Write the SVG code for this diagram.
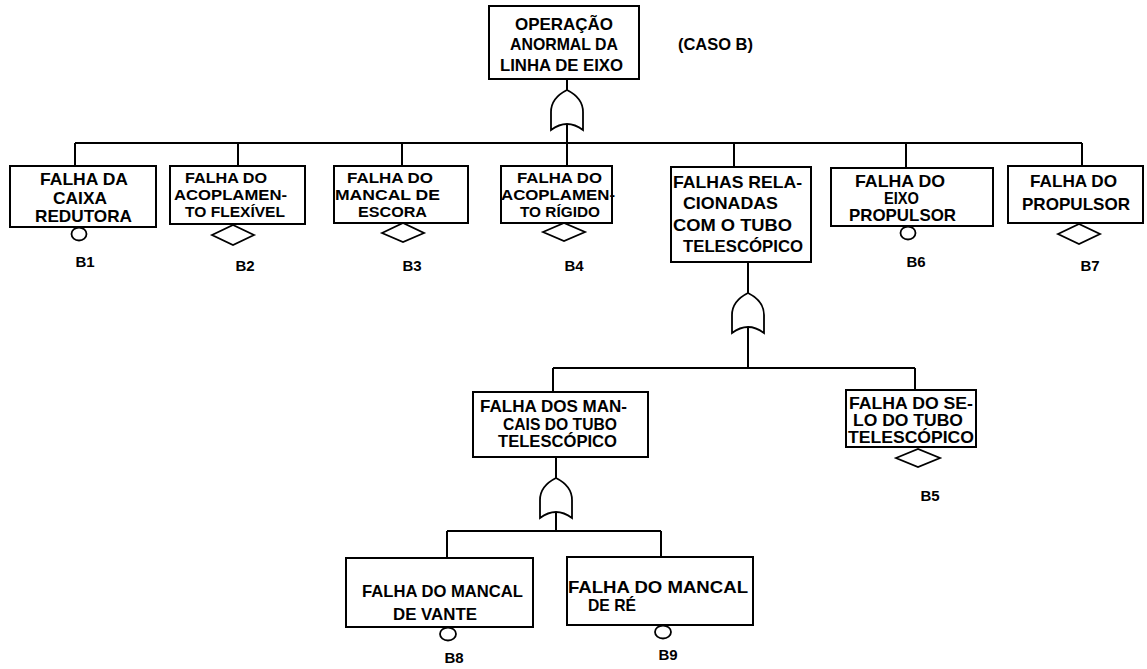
<svg xmlns="http://www.w3.org/2000/svg" xmlns:xlink="http://www.w3.org/1999/xlink" width="1147" height="669" viewBox="0 0 1147 669">
<style>
.bg{fill:#ffffff}
.box{fill:#ffffff;stroke:#000;stroke-width:2}
.ln{fill:none;stroke:#000;stroke-width:2}
.sym{fill:#ffffff;stroke:#000;stroke-width:1.8}
text{font-family:"Liberation Sans",Arial,sans-serif;font-weight:bold;fill:#000}
.t{font-size:17px}
.s{font-size:14.5px}
.lb{font-size:15px;text-anchor:middle}
</style>
<defs>
<path id="or" d="M-16,40 L-16,22 Q-16,8 0,0 Q16,8 16,22 L16,40 Q0,28 -16,40 Z" class="sym"/>
</defs>
<rect class="bg" x="0" y="0" width="1147" height="669"/>

<g id="connectors">
<line class="ln" x1="567" y1="79" x2="567" y2="90"/>
<line class="ln" x1="567" y1="124" x2="567" y2="143"/>
<line class="ln" x1="75" y1="143" x2="1082" y2="143"/>
<line class="ln" x1="75" y1="143" x2="75" y2="166"/>
<line class="ln" x1="238" y1="143" x2="238" y2="166"/>
<line class="ln" x1="402" y1="143" x2="402" y2="166"/>
<line class="ln" x1="567" y1="143" x2="567" y2="166"/>
<line class="ln" x1="734" y1="143" x2="734" y2="167"/>
<line class="ln" x1="906" y1="143" x2="906" y2="168"/>
<line class="ln" x1="1082" y1="143" x2="1082" y2="166"/>
<line class="ln" x1="748" y1="262" x2="748" y2="293"/>
<line class="ln" x1="748" y1="327" x2="748" y2="368"/>
<line class="ln" x1="553" y1="368" x2="915" y2="368"/>
<line class="ln" x1="553" y1="368" x2="553" y2="392"/>
<line class="ln" x1="915" y1="368" x2="915" y2="390"/>
<line class="ln" x1="556" y1="457" x2="556" y2="478"/>
<line class="ln" x1="556" y1="512" x2="556" y2="531"/>
<line class="ln" x1="447" y1="531" x2="661" y2="531"/>
<line class="ln" x1="447" y1="531" x2="447" y2="558"/>
<line class="ln" x1="661" y1="531" x2="661" y2="557"/>
</g>

<g id="gate-top"><use xlink:href="#or" href="#or" x="567" y="90"/></g>
<g id="gate-tubo"><use xlink:href="#or" href="#or" x="748" y="293"/></g>
<g id="gate-mancais"><use xlink:href="#or" href="#or" x="556" y="478"/></g>

<g id="top">
<rect class="box" x="489" y="6" width="150" height="73"/>
<text class="t" x="515" y="30" textLength="98" lengthAdjust="spacingAndGlyphs">OPERAÇÃO</text>
<text class="t" x="510" y="50" textLength="108" lengthAdjust="spacingAndGlyphs">ANORMAL DA</text>
<text class="t" x="500" y="71" textLength="123" lengthAdjust="spacingAndGlyphs">LINHA DE EIXO</text>
</g>
<g id="caso"><text class="t" x="678" y="50" textLength="75" lengthAdjust="spacingAndGlyphs">(CASO B)</text></g>

<g id="n-b1">
<rect class="box" x="10" y="166" width="146" height="61"/>
<text class="t" x="40" y="185" textLength="88" lengthAdjust="spacingAndGlyphs">FALHA DA</text>
<text class="t" x="53" y="204" textLength="54" lengthAdjust="spacingAndGlyphs">CAIXA</text>
<text class="t" x="35" y="222" textLength="97" lengthAdjust="spacingAndGlyphs">REDUTORA</text>
<ellipse class="sym" cx="79" cy="234" rx="7.5" ry="6.5"/>
<text class="lb" x="85" y="267">B1</text>
</g>

<g id="n-b2">
<rect class="box" x="170" y="166" width="135" height="58"/>
<text class="s" x="185" y="183" textLength="82" lengthAdjust="spacingAndGlyphs">FALHA DO</text>
<text class="s" x="174" y="200" textLength="113" lengthAdjust="spacingAndGlyphs">ACOPLAMEN-</text>
<text class="s" x="185" y="217" textLength="100" lengthAdjust="spacingAndGlyphs">TO FLEXÍVEL</text>
<polygon class="sym" points="212,235 233,225 254,235 233,245"/>
<text class="lb" x="245" y="271">B2</text>
</g>

<g id="n-b3">
<rect class="box" x="334" y="166" width="134" height="57"/>
<text class="s" x="347" y="183" textLength="86" lengthAdjust="spacingAndGlyphs">FALHA DO</text>
<text class="s" x="335" y="200" textLength="105" lengthAdjust="spacingAndGlyphs">MANCAL DE</text>
<text class="s" x="358" y="217" textLength="69" lengthAdjust="spacingAndGlyphs">ESCORA</text>
<polygon class="sym" points="382,233 403,223 424,233 403,242"/>
<text class="lb" x="412" y="271">B3</text>
</g>

<g id="n-b4">
<rect class="box" x="501" y="166" width="111" height="57"/>
<text class="s" x="517" y="183" textLength="85" lengthAdjust="spacingAndGlyphs">FALHA DO</text>
<text class="s" x="501" y="200" textLength="114" lengthAdjust="spacingAndGlyphs">ACOPLAMEN-</text>
<text class="s" x="520" y="217" textLength="80" lengthAdjust="spacingAndGlyphs">TO RÍGIDO</text>
<polygon class="sym" points="543,232 564,223 585,232 564,241"/>
<text class="lb" x="574" y="271">B4</text>
</g>

<g id="n-tubo">
<rect class="box" x="671" y="167" width="140" height="95"/>
<text class="t" x="673" y="188" textLength="129" lengthAdjust="spacingAndGlyphs">FALHAS RELA-</text>
<text class="t" x="683" y="209" textLength="95" lengthAdjust="spacingAndGlyphs">CIONADAS</text>
<text class="t" x="673" y="231" textLength="119" lengthAdjust="spacingAndGlyphs">COM O TUBO</text>
<text class="t" x="683" y="252" textLength="120" lengthAdjust="spacingAndGlyphs">TELESCÓPICO</text>
</g>

<g id="n-b6">
<rect class="box" x="831" y="168" width="162" height="58"/>
<text class="t" x="855" y="187" textLength="90" lengthAdjust="spacingAndGlyphs">FALHA DO</text>
<text class="t" x="884" y="204" textLength="35" lengthAdjust="spacingAndGlyphs">EIXO</text>
<text class="t" x="849" y="221" textLength="107" lengthAdjust="spacingAndGlyphs">PROPULSOR</text>
<ellipse class="sym" cx="908" cy="233" rx="7.5" ry="6.5"/>
<text class="lb" x="916" y="267">B6</text>
</g>

<g id="n-b7">
<rect class="box" x="1008" y="166" width="135" height="57"/>
<text class="t" x="1030" y="187" textLength="87" lengthAdjust="spacingAndGlyphs">FALHA DO</text>
<text class="t" x="1022" y="210" textLength="108" lengthAdjust="spacingAndGlyphs">PROPULSOR</text>
<polygon class="sym" points="1058,234 1079,224 1100,234 1079,244"/>
<text class="lb" x="1090" y="271">B7</text>
</g>

<g id="n-mancais">
<rect class="box" x="473" y="392" width="175" height="65"/>
<text class="t" x="480" y="412" textLength="147" lengthAdjust="spacingAndGlyphs">FALHA DOS MAN-</text>
<text class="t" x="503" y="430" textLength="114" lengthAdjust="spacingAndGlyphs">CAIS DO TUBO</text>
<text class="t" x="498" y="447" textLength="119" lengthAdjust="spacingAndGlyphs">TELESCÓPICO</text>
</g>

<g id="n-b5">
<rect class="box" x="846" y="390" width="130" height="57"/>
<text class="t" x="849" y="409" textLength="124" lengthAdjust="spacingAndGlyphs">FALHA DO SE-</text>
<text class="t" x="853" y="426" textLength="110" lengthAdjust="spacingAndGlyphs">LO DO TUBO</text>
<text class="t" x="848" y="443" textLength="126" lengthAdjust="spacingAndGlyphs">TELESCÓPICO</text>
<polygon class="sym" points="896,458 918,449 940,458 918,467"/>
<text class="lb" x="930" y="501">B5</text>
</g>

<g id="n-b8">
<rect class="box" x="346" y="558" width="187" height="69"/>
<text class="t" x="362" y="597" textLength="161" lengthAdjust="spacingAndGlyphs">FALHA DO MANCAL</text>
<text class="t" x="393" y="620" textLength="84" lengthAdjust="spacingAndGlyphs">DE VANTE</text>
<ellipse class="sym" cx="448" cy="634" rx="8" ry="6.5"/>
<text class="lb" x="454" y="663">B8</text>
</g>

<g id="n-b9">
<rect class="box" x="567" y="557" width="186" height="68"/>
<text class="t" x="568" y="593" textLength="180" lengthAdjust="spacingAndGlyphs">FALHA DO MANCAL</text>
<text class="t" x="588" y="611" textLength="48" lengthAdjust="spacingAndGlyphs">DE RÉ</text>
<ellipse class="sym" cx="663" cy="632" rx="8" ry="6.5"/>
<text class="lb" x="668" y="660">B9</text>
</g>
</svg>
